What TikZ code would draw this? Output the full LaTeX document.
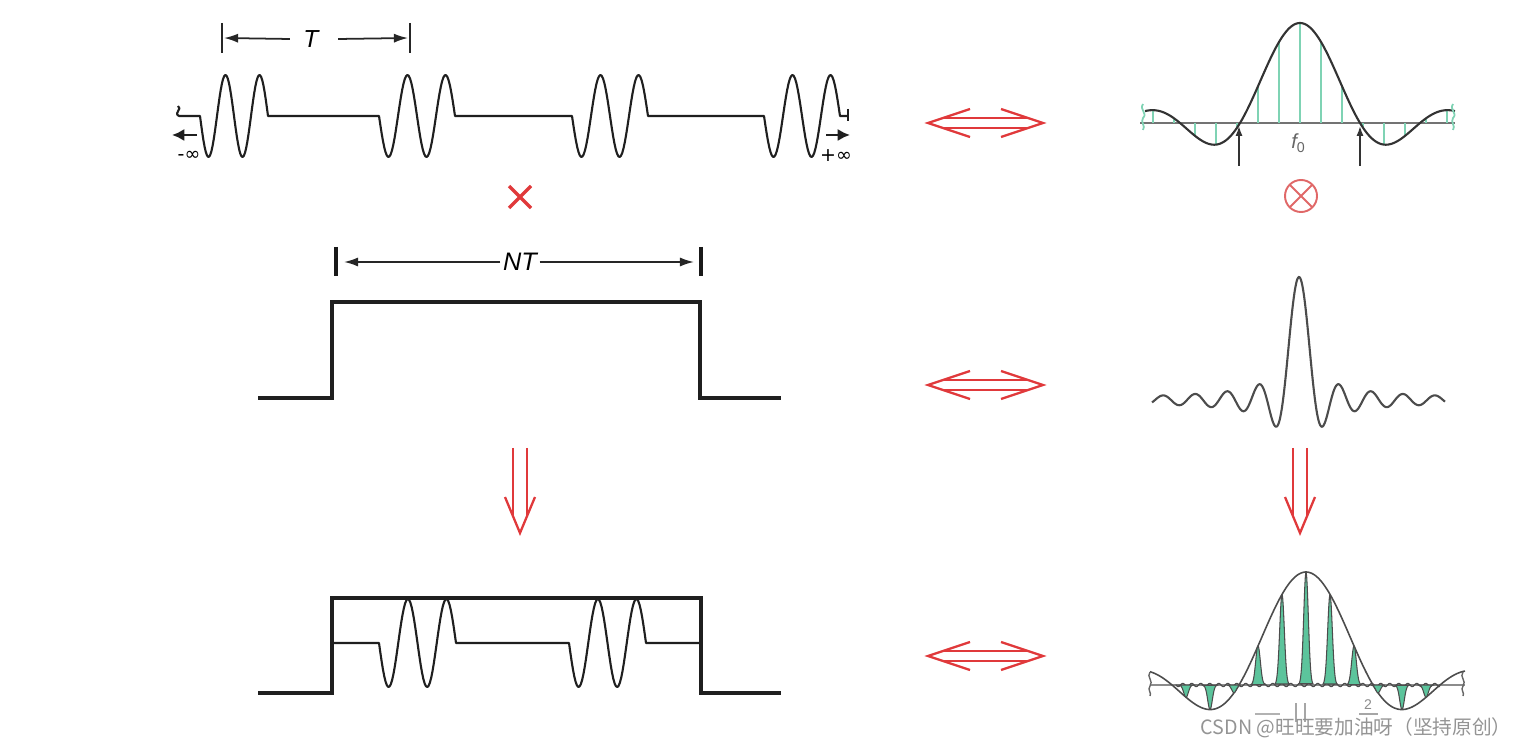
\documentclass[tikz,border=0pt]{standalone}
\usepackage{fontspec}
\newfontfamily\lab{Liberation Sans}
\newfontfamily\djv{DejaVu Sans}
\newfontfamily\cjk{Noto Sans CJK SC}
\usetikzlibrary{arrows.meta}
\definecolor{myred}{HTML}{E0393B}
\definecolor{pinkred}{HTML}{E06868}
\definecolor{stemgreen}{HTML}{7FD3B4}
\definecolor{spikegreen}{HTML}{5CC49C}
\newcommand\dblarr[1]{%
  \begin{scope}[shift={(0,#1)}]
    \draw[redl] (970,-14) -- (928,0) -- (970,14);
    \draw[redl] (1001,-14) -- (1043,0) -- (1001,14);
    \draw[redl] (943,-5) -- (1028,-5);
    \draw[redl] (943,5) -- (1028,5);
  \end{scope}}
\newcommand\downarr[1]{%
  \begin{scope}[shift={(#1,0)}]
    \draw[redl] (-7,448) -- (-7,516);
    \draw[redl] (7,448) -- (7,516);
    \draw[redl] (-15,497) -- (0,533) -- (15,497);
  \end{scope}}
\begin{document}
\begin{tikzpicture}[x=0.01cm,y=-0.01cm,
  wave/.style={line width=0.6pt, black!88, line join=round},
  boxline/.style={line width=0.9pt, black!88, line join=miter},
  redl/.style={line width=0.65pt, myred, line join=miter},
  dim/.style={line width=0.5pt, black!85, -{Latex[length=4pt,width=2.6pt]}},
  bar/.style={line width=0.5pt, black!85},
  tbar/.style={line width=1.2pt, black!90},
  stem/.style={line width=0.7pt, stemgreen},
  curve/.style={line width=0.6pt, black!80},
  sincl/.style={line width=0.6pt, black!70},
  env/.style={line width=0.45pt, black!70},
  spike/.style={fill=spikegreen, draw=black!70, line width=0.3pt},
  lbl/.style={inner sep=0pt}
]
\useasboundingbox (0,0) rectangle (1515,749);

% ---------------- top-left: periodic burst signal ----------------
\draw[bar] (222,23) -- (222,53);
\draw[bar] (410,23) -- (410,53);
\node[lbl, font=\lab\itshape\fontsize{7}{8}\selectfont] (T) at (311,39) {T};
\coordinate (Tl) at (224,38);
\coordinate (Tr) at (408,38);
\draw[dim] (T.west) ++(-13,0) -- (Tl);
\draw[dim] (T.east) ++(19,0) -- (Tr);

\draw[wave] (178,106) .. controls (183,109) and (173,113) .. (179,116)
  -- (200,116)
  -- plot[domain=200:268, samples=60] (\x,{116+41*sin((\x-200)*10.5882)})
  -- (379,116)
  -- plot[domain=379:455, samples=60] (\x,{116+41*sin((\x-379)*9.4737)})
  -- (572,116)
  -- plot[domain=572:648, samples=60] (\x,{116+41*sin((\x-572)*9.4737)})
  -- (764,116)
  -- plot[domain=764:840, samples=60] (\x,{116+41*sin((\x-764)*9.4737)})
  -- (848,116);
\draw[wave] (848,109) -- (848,121);
\coordinate (la) at (172,135);
\coordinate (lb) at (197,135);
\coordinate (ra) at (826,135);
\coordinate (rb) at (850,135);
\draw[line width=0.8pt, black!88, -{Latex[length=3.5pt,width=3.5pt]}] (lb) -- (la);
\draw[line width=0.8pt, black!88, -{Latex[length=3.5pt,width=3.5pt]}] (ra) -- (rb);
\node[lbl, font=\djv\fontsize{5.4}{6}\selectfont] (minf) at (189,156) {-∞};
\node[lbl, font=\djv\fontsize{5.4}{6}\selectfont] (pinf) at (836,156) {+∞};

% red multiplication sign
\draw[line width=0.95pt, myred] (509,186) -- (531,208) (509,208) -- (531,186);

% ---------------- middle-left: window ----------------
\draw[tbar] (336,247) -- (336,276);
\draw[tbar] (701,247) -- (701,276);
\node[lbl, font=\lab\itshape\fontsize{7.2}{8}\selectfont] (NT) at (520,262) {NT};
\coordinate (NTl) at (344,262);
\coordinate (NTr) at (694,262);
\draw[dim] (NT.west) ++(-2,0) -- (NTl);
\draw[dim] (NT.east) ++(2,0) -- (NTr);
\draw[boxline] (258,398) -- (332,398) -- (332,302) -- (700,302) -- (700,398) -- (781,398);

% ---------------- bottom-left: windowed signal ----------------
\draw[boxline] (258,693) -- (332,693) -- (332,598) -- (701,598) -- (701,693) -- (781,693);
\draw[wave] (332,643) -- (379,643)
  -- plot[domain=379:456, samples=60] (\x,{643+44*sin((\x-379)*9.3506)})
  -- (569,643)
  -- plot[domain=569:646, samples=60] (\x,{643+44*sin((\x-569)*9.3506)})
  -- (701,643);

% ---------------- red arrows ----------------
\dblarr{123}
\dblarr{385}
\dblarr{656}
\downarr{520}
\downarr{1300}

% ---------------- top-right: line spectrum ----------------
\draw[line width=0.45pt, black!55] (1140,123) -- (1455,123);
\foreach \k in {-7,...,7}{
  \pgfmathsetmacro\xx{1300+21*\k}
  \pgfmathsetmacro\uu{(21*\k+0.05)/60}
  \pgfmathsetmacro\yy{123-100*sin(180*\uu)/(pi*\uu)}
  \draw[stem] (\xx,123) -- (\xx,\yy);
}
\draw[curve] plot[domain=1145:1455, samples=220] (\x,{123-100*sin((\x-1300.013)*3)/(pi*(\x-1300.013)/60)});
\draw[line width=0.5pt, stemgreen] (1143,104) .. controls (1139,110) and (1148,113) .. (1143,118) .. controls (1140,122) and (1146,126) .. (1143,130);
\draw[line width=0.5pt, stemgreen] (1453,104) .. controls (1449,110) and (1458,113) .. (1453,118) .. controls (1450,122) and (1456,126) .. (1453,130);
\coordinate (z1a) at (1239,166);
\coordinate (z1b) at (1239,126);
\coordinate (z2a) at (1360,166);
\coordinate (z2b) at (1360,126);
\draw[line width=0.45pt, black!80, -{Latex[length=2.8pt,width=2pt]}] (z1a) -- (z1b);
\draw[line width=0.45pt, black!80, -{Latex[length=2.8pt,width=2pt]}] (z2a) -- (z2b);
\node[lbl, text=black!60, font=\lab\itshape\fontsize{5.8}{6}\selectfont] (f0) at (1299,143) {f\textsubscript{\upshape 0}};

% convolution sign
\draw[line width=0.55pt, pinkred] (1301,196) circle[radius=0.16cm];
\draw[line width=0.55pt, pinkred] (1290,185) -- (1312,207) (1290,207) -- (1312,185);

% ---------------- middle-right: sinc ----------------
\draw[sincl] plot[domain=1152:1445, samples=420] (\x,{400-123*sin((\x-1299.013)*11.25)/(pi*(\x-1299.013)/16)});

% ---------------- bottom-right: windowed spectrum ----------------
\draw[line width=0.4pt, black!45] (1150,685) -- (1465,685);
\draw[env] plot[domain=1150:1465, samples=250] (\x,{685-113*sin((\x-1306.013)*2.6866)/(pi*(\x-1306.013)/67)});
\draw[line width=0.35pt, black!70] plot[domain=1176:1440, samples=300] (\x,{685+1.6*sin((\x-1176)*40)});
\foreach \k in {-5,...,5}{
  \pgfmathsetmacro\xk{1306+24*\k}
  \pgfmathsetmacro\xa{\xk-7}
  \pgfmathsetmacro\xb{\xk+7}
  \pgfmathsetmacro\uu{(24*\k+0.05)/67}
  \pgfmathsetmacro\hk{113*sin(180*\uu)/(pi*\uu)}
  \filldraw[spike] plot[domain=\xa:\xb, samples=30] (\x,{685-\hk*exp(-((\x-\xk)/3.3)^2)}) -- cycle;
}
\draw[line width=0.4pt, black!60] (1150,672) .. controls (1146,677) and (1154,681) .. (1150,686) .. controls (1147,690) and (1152,693) .. (1150,696);
\draw[line width=0.4pt, black!60] (1463,672) .. controls (1459,677) and (1467,681) .. (1463,686) .. controls (1460,690) and (1465,693) .. (1463,696);
% faded axis marks
\draw[line width=0.5pt, black!30] (1255,714) -- (1280,714);
\draw[line width=0.6pt, black!35] (1296,703) -- (1296,722);
\draw[line width=0.6pt, black!35] (1305,703) -- (1305,722);
\draw[line width=0.5pt, black!35] (1359,714) -- (1378,714);
\node[lbl, text=black!45, font=\lab\fontsize{4}{4}\selectfont] (two) at (1368,705) {2};

% watermark
\node[lbl, anchor=west, text=black!42, font=\cjk\fontsize{5.6}{6}\selectfont] (wm) at (1200,728) {CSDN @旺旺要加油呀（坚持原创）};
\end{tikzpicture}
\end{document}
